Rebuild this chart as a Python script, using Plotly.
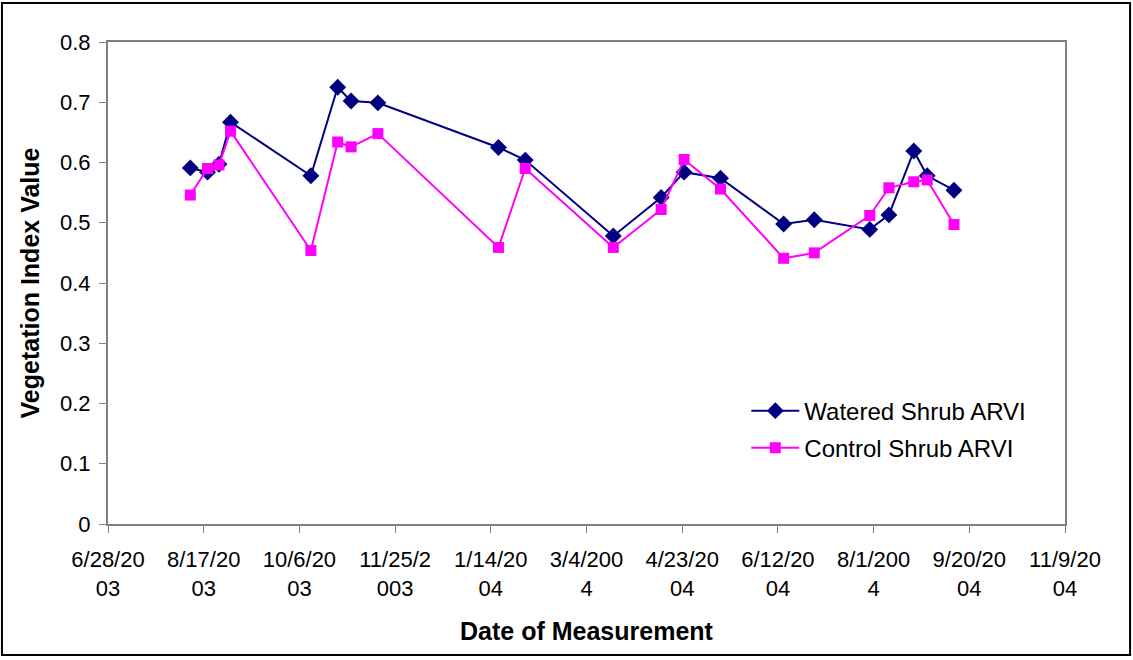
import plotly.graph_objects as go
import pandas as pd

# Measurement dates (shared by both series)
dates = [
    "2003-08-10", "2003-08-19", "2003-08-25", "2003-08-31", "2003-10-12",
    "2003-10-26", "2003-11-02", "2003-11-16", "2004-01-18", "2004-02-01",
    "2004-03-18", "2004-04-12", "2004-04-24", "2004-05-13", "2004-06-15",
    "2004-07-01", "2004-07-30", "2004-08-09", "2004-08-22", "2004-08-29",
    "2004-09-12",
]

watered_arvi = [
    0.591, 0.584, 0.597, 0.667, 0.578, 0.725, 0.702, 0.699, 0.625, 0.604,
    0.478, 0.542, 0.584, 0.574, 0.498, 0.505, 0.489, 0.513, 0.619, 0.578,
    0.554,
]

control_arvi = [
    0.546, 0.590, 0.596, 0.652, 0.454, 0.634, 0.626, 0.648, 0.459, 0.590,
    0.459, 0.522, 0.605, 0.556, 0.441, 0.450, 0.512, 0.558, 0.568, 0.571,
    0.497,
]

# Date axis ticks every 50 days, labels wrapped as in the spreadsheet export
tick_dates = pd.date_range("2003-06-28", "2004-11-09", freq="50D")
tick_labels = [
    "6/28/20<br>03", "8/17/20<br>03", "10/6/20<br>03", "11/25/2<br>003",
    "1/14/20<br>04", "3/4/200<br>4", "4/23/20<br>04", "6/12/20<br>04",
    "8/1/200<br>4", "9/20/20<br>04", "11/9/20<br>04",
]

FONT = "Liberation Sans, Arial, sans-serif"

fig = go.Figure()
fig.add_trace(go.Scatter(
    x=dates, y=watered_arvi, mode="lines+markers", name="Watered Shrub ARVI",
    line=dict(color="#000080", width=2),
    marker=dict(symbol="diamond", size=13, color="#000080"),
    legendgroup="w",
))
fig.add_trace(go.Scatter(
    x=dates, y=control_arvi, mode="lines+markers", name="Control Shrub ARVI",
    line=dict(color="#FF00FF", width=2),
    marker=dict(symbol="square", size=11, color="#FF00FF"),
    legendgroup="c",
))

axis_gray = "#808080"
fig.update_layout(
    width=1133, height=660,
    margin=dict(l=108, r=68, t=42, b=136),
    paper_bgcolor="white", plot_bgcolor="white",
    font=dict(family=FONT, size=22, color="black"),
    showlegend=True,
    legend=dict(
        x=0.667, y=0.281, xanchor="left", yanchor="top",
        bgcolor="rgba(0,0,0,0)", font=dict(size=24),
        tracegroupgap=3, itemwidth=48, traceorder="grouped",
    ),
    xaxis=dict(
        type="date",
        range=["2003-06-28", "2004-11-09"],
        tickvals=tick_dates, ticktext=tick_labels,
        ticks="outside", ticklen=7, tickcolor=axis_gray, tickwidth=1,
        ticklabelstandoff=8,
        showgrid=False, zeroline=False,
        showline=True, linecolor=axis_gray, linewidth=2, mirror=True,
        tickfont=dict(size=22),
        title=dict(text="<b>Date of Measurement</b>", font=dict(size=25), standoff=22),
    ),
    yaxis=dict(
        range=[0, 0.8], dtick=0.1, tick0=0,
        ticks="outside", ticklen=7, tickcolor=axis_gray, tickwidth=1,
        ticklabelstandoff=4,
        showgrid=False, zeroline=False,
        showline=True, linecolor=axis_gray, linewidth=2, mirror=True,
        tickfont=dict(size=22),
        title=dict(text="<b>Vegetation Index Value</b>", font=dict(size=25), standoff=13),
    ),
)

# Outer chart frame
fig.add_shape(
    type="rect", xref="paper", yref="paper",
    x0=-0.1108, x1=1.068, y0=-0.2718, y1=1.0809,
    line=dict(color="black", width=2), fillcolor="rgba(0,0,0,0)", layer="below",
)

fig.write_html("out.html")
